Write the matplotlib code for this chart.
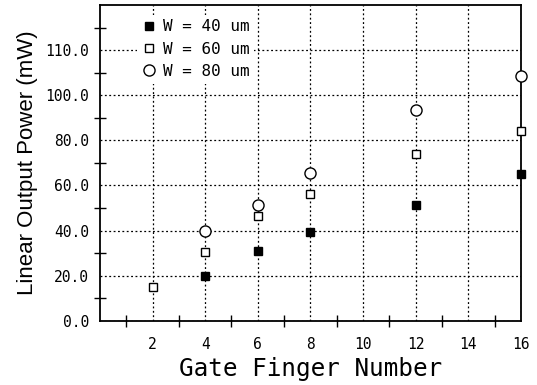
import matplotlib.pyplot as plt
import numpy as np

# gate finger counts and output power (mW)
fingers_40 = [4, 6, 8, 12, 16]
power_40 = [20.0, 31.0, 39.5, 51.5, 65.0]

fingers_60 = [2, 4, 6, 8, 12, 16]
power_60 = [15.0, 30.5, 46.5, 56.0, 74.0, 84.0]

fingers_80 = [4, 6, 8, 12, 16]
power_80 = [40.0, 51.5, 65.5, 93.5, 108.5]

# the original labels the top gridline "110.0" although it sits at 120
ytick_pos = [0, 20, 40, 60, 80, 100, 120]
ytick_lab = ['0.0', '20.0', '40.0', '60.0', '80.0', '100.0', '110.0']
xtick_pos = [2, 4, 6, 8, 10, 12, 14, 16]

mono = 'DejaVu Sans Mono'

fig = plt.figure(figsize=(5.37, 3.85), dpi=100)
ax = fig.add_axes([0.186, 0.167, 0.784, 0.820])

ax.plot(fingers_40, power_40, 's', color='black', ms=6, clip_on=False,
        zorder=5, label='W = 40 um')
ax.plot(fingers_60, power_60, 's', mfc='white', mec='black', mew=1.0, ms=6,
        clip_on=False, zorder=5, label='W = 60 um')
ax.plot(fingers_80, power_80, 'o', mfc='white', mec='black', mew=1.0, ms=8,
        clip_on=False, zorder=5, label='W = 80 um')

ax.set_xlim(0, 16)
ax.set_ylim(0, 140)
ax.set_xticks(xtick_pos)
ax.set_xticks(np.arange(1, 16, 2), minor=True)
ax.set_yticks(ytick_pos)
ax.set_yticklabels(ytick_lab)
ax.set_yticks(np.arange(10, 140, 20), minor=True)

ax.grid(True, which='major', linestyle=(0, (1.5, 2)), color='black',
        linewidth=0.9)
ax.set_axisbelow(True)
for s in ax.spines.values():
    s.set_linewidth(1.3)

ax.tick_params(which='both', direction='inout', length=8, width=1,
               top=False, right=False)
ax.tick_params(axis='x', which='major', length=0, pad=12)
ax.tick_params(axis='y', which='major', length=0, pad=8)
for lab in ax.get_xticklabels() + ax.get_yticklabels():
    lab.set_family(mono)
    lab.set_fontsize(10.5)

ax.set_xlabel('Gate Finger Number', family=mono, fontsize=17.5, labelpad=3)
ax.set_ylabel('Linear Output Power (mW)', family='Liberation Sans',
              fontsize=16, labelpad=5)

leg = ax.legend(loc='upper left', bbox_to_anchor=(0.07, 0.995), frameon=True,
                edgecolor='none', facecolor='white', framealpha=1,
                prop={'family': mono, 'size': 11.5}, handletextpad=0.4,
                handlelength=0.9, labelspacing=0.45, borderpad=0.3,
                fancybox=False)
leg.set_zorder(6)

fig.savefig('out.png', dpi=100)
